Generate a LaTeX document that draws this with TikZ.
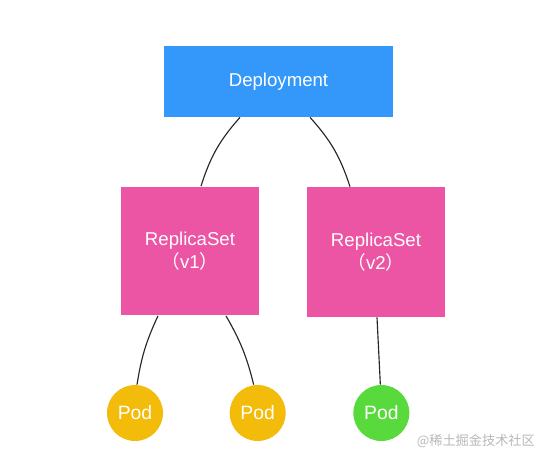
\documentclass[tikz,border=0pt]{standalone}
\usepackage{fontspec}
\setmainfont{Liberation Sans}
\newfontfamily\cjk{Noto Sans CJK SC}
\usepackage{xcolor}
\usepackage{tikz}
\usetikzlibrary{positioning, calc}

\definecolor{deployblue}{RGB}{52,152,250}
\definecolor{rspink}{RGB}{236,84,164}
\definecolor{podyellow}{RGB}{243,187,10}
\definecolor{podgreen}{RGB}{88,218,60}

\begin{document}
\begin{tikzpicture}[x=0.02cm, y=-0.02cm, node distance=10mm,
  box/.style={fill=#1,draw=none,text=white,align=center,font=\fontsize{10.6}{13.2}\selectfont},
  pod/.style={circle,fill=#1,draw=none,text=white,minimum size=1.12cm,inner sep=0pt,font=\fontsize{11}{12}\selectfont},
  link/.style={draw=black!85,line width=0.65pt}]
  \useasboundingbox (0,0) rectangle (552,460);
  \node[box=deployblue, minimum width=4.58cm, minimum height=1.42cm] (deploy) at (278.5,81.5) {Deployment};
  \node[box=rspink, minimum width=2.76cm, minimum height=2.58cm] (rsone) at (190,251) {ReplicaSet\\{\cjk （}v1{\cjk ）}};
  \node[box=rspink, minimum width=2.76cm, minimum height=2.6cm] (rstwo) at (376,252) {ReplicaSet\\{\cjk （}v2{\cjk ）}};
  \node[pod=podyellow] (podone) at (135,413) {Pod};
  \node[pod=podyellow, right=1.32cm of podone] (podtwo) {Pod};
  \node[pod=podgreen, right=1.34cm of podtwo] (podthree) {Pod};
  % connectors
  \draw[link] ([xshift=-0.77cm]deploy.south) to[bend right=12] ([xshift=0.22cm]rsone.north);
  \draw[link] ([xshift=0.63cm]deploy.south) to[bend left=12] ([xshift=-0.52cm]rstwo.north);
  \draw[link] ([xshift=-0.64cm]rsone.south) to[bend right=8] ([xshift=0.04cm]podone.north);
  \draw[link] ([xshift=0.72cm]rsone.south) to[bend left=8] ([xshift=-0.08cm]podtwo.north);
  \draw[link] ([xshift=0.02cm]rstwo.south) -- ([xshift=-0.02cm]podthree.north);
  % watermark
  \node[text=black!28, font=\cjk\fontsize{7.5}{9}\selectfont, anchor=east] (mark) at (541,441) {@稀土掘金技术社区};
\end{tikzpicture}
\end{document}
